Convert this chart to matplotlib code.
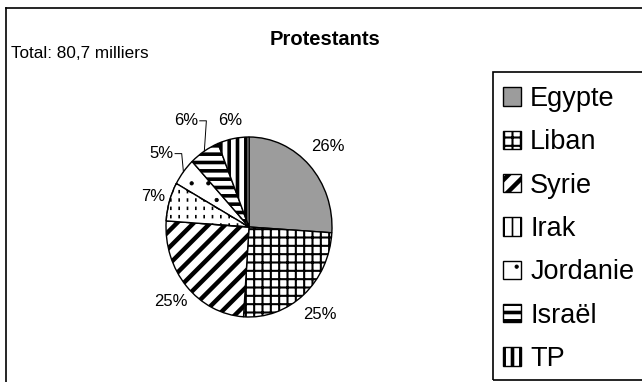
import numpy as np
import matplotlib
matplotlib.use("Agg")
import matplotlib.pyplot as plt
from matplotlib.lines import Line2D
from matplotlib.patches import Rectangle, Wedge

plt.rcParams['font.family'] = ['Liberation Sans', 'DejaVu Sans']

# donnees (milliers)
pays = ['Egypte', 'Liban', 'Syrie', 'Irak', 'Jordanie', 'Israël', 'TP']
valeurs = [21.0, 20.2, 20.2, 5.6, 4.0, 4.8, 4.9]
titre = 'Protestants'
total_txt = 'Total: 80,7 milliers'

# style des secteurs
couleurs = ['#9c9c9c', 'white', 'white', 'white', 'white', 'white', 'white']
hachures = [None, '++', '//', '||', '.', '--', '||']
epaisseurs = [1.0, 1.5, 3.2, 1.2, 0.6, 2.6, 2.6]
# distance des etiquettes, et celles qui ont un trait de rappel
dist_lab = [1.3, 1.3, 1.25, 1.2, 1.33, 1.4, 1.21]
rappel = [False, False, False, False, True, True, False]

W, H = 642, 382
fig = plt.figure(figsize=(W / 100, H / 100), dpi=100)

# cadre exterieur (coupe a droite et en bas)
fig.add_artist(Line2D([6 / W, 1], [1 - 8 / H, 1 - 8 / H], color='black', lw=1.2))
fig.add_artist(Line2D([6 / W, 6 / W], [1 - 8 / H, 0], color='black', lw=1.2))

fig.text(325 / W, 1 - 45 / H, titre, ha='center', va='baseline',
         fontsize=14.5, fontweight='bold')
fig.text(11 / W, 1 - 58 / H, total_txt, ha='left', va='baseline', fontsize=12.3)

ax = fig.add_axes([124.5 / W, 20 / H, 249 / W, 270 / H])
wedges, _ = ax.pie(valeurs, startangle=90, counterclock=False,
                   wedgeprops=dict(edgecolor='black', linewidth=1))
for w, c, h, lw in zip(wedges, couleurs, hachures, epaisseurs):
    w.set_facecolor(c)
    if h:
        w.set_hatch(h)
    if hasattr(w, 'set_hatch_linewidth'):
        w.set_hatch_linewidth(lw)

# Irak : traits verticaux coupes -> tirets (hachure blanche par dessus)
wi = wedges[3]
coupe = Wedge(wi.center, wi.r, wi.theta1, wi.theta2, facecolor='none',
              edgecolor='white', lw=0, hatch='--')
if hasattr(coupe, 'set_hatch_linewidth'):
    coupe.set_hatch_linewidth(3.5)
ax.add_patch(coupe)
ax.add_patch(Wedge(wi.center, wi.r, wi.theta1, wi.theta2, facecolor='none',
                   edgecolor='black', lw=1))

ax.set_aspect('auto')
ax.set_xlim(-1.5, 1.5)
ax.set_ylim(-1.5, 1.5)

tot = sum(valeurs)
for w, v, d, r in zip(wedges, valeurs, dist_lab, rappel):
    a = np.deg2rad((w.theta1 + w.theta2) / 2)
    tx, ty = d * np.cos(a), d * np.sin(a)
    ax.text(tx, ty, f"{round(100 * v / tot)}%", ha='center', va='center', fontsize=12)
    if r:
        ax.plot([tx + 0.16, tx + 0.24, np.cos(a)], [ty, ty, np.sin(a)],
                color='black', lw=0.7, clip_on=False)

# legende
fig.add_artist(Rectangle((493 / W, 2 / H), 1, 308 / H, transform=fig.transFigure,
                         facecolor='none', edgecolor='black', lw=1.2))
leg = fig.legend(wedges, pays, loc='upper left', bbox_to_anchor=(503 / W, 1 - 86 / H),
                 frameon=False, fontsize=19.5, borderpad=0, borderaxespad=0,
                 handlelength=0.67, handleheight=0.67, handletextpad=0.33,
                 labelspacing=0.64)
for hd, lw in zip(leg.legend_handles, epaisseurs):
    if hasattr(hd, 'set_hatch_linewidth'):
        hd.set_hatch_linewidth(lw)

fig.savefig('out.png', dpi=100)
